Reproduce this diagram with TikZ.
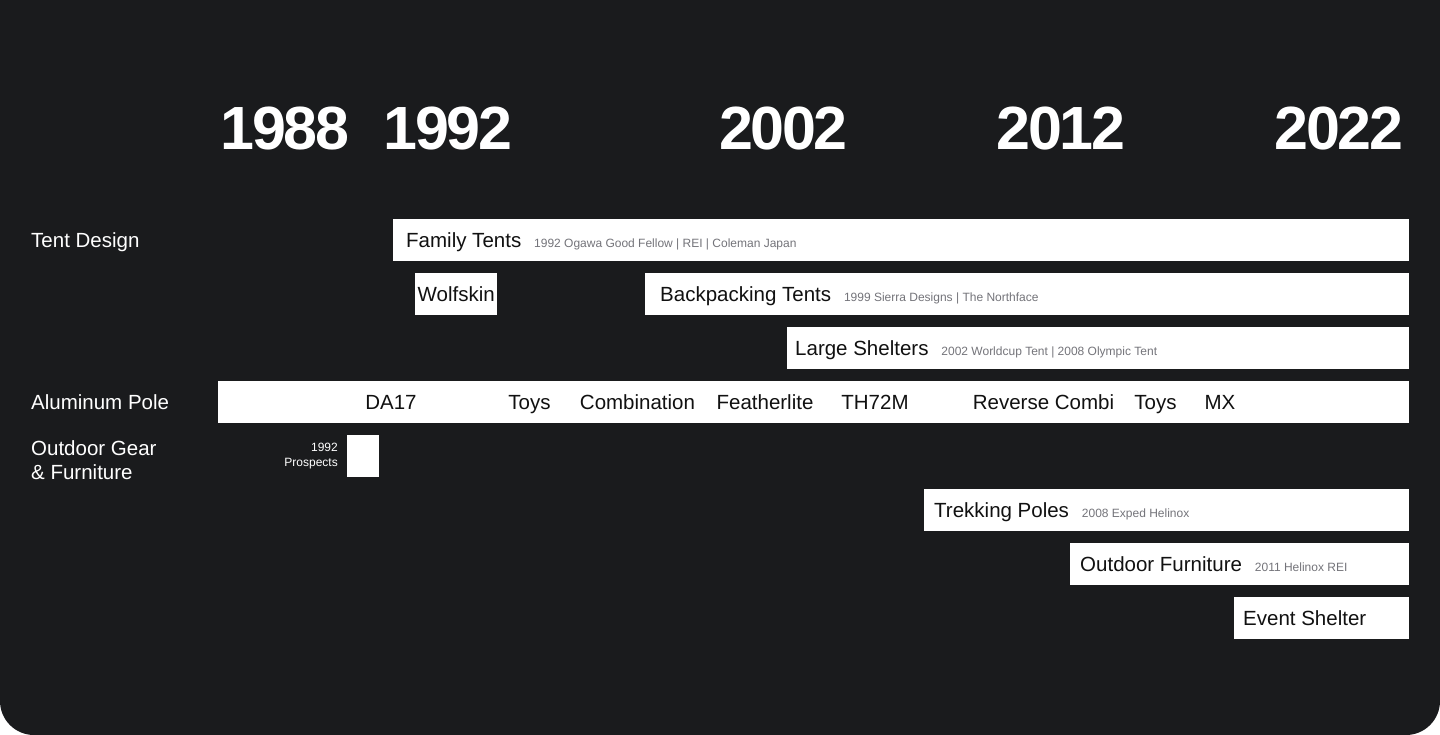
\documentclass[tikz,border=0pt]{standalone}
\usepackage{fontspec}
\setmainfont{Liberation Sans}
\newfontfamily\yearfont[LetterSpace=-4]{Liberation Sans}
\usetikzlibrary{positioning}
\definecolor{bgdark}{HTML}{1A1B1D}
\definecolor{subgray}{HTML}{74747A}
\definecolor{inkblack}{HTML}{111111}
\tikzset{
  bar/.style={fill=white, draw=none, inner sep=0pt, minimum height=42pt, anchor=north west},
  head/.style={font=\fontsize{20.5}{24}\selectfont, inner sep=0pt, text height=14.6pt, text depth=0pt, text=inkblack},
  lane/.style={head, text=white, anchor=west},
  sub/.style={font=\fontsize{12}{14.5}\selectfont, inner sep=0pt, text=subgray},
  year/.style={font=\yearfont\bfseries\fontsize{61}{61}\selectfont, text=white, inner sep=0pt, anchor=base},
}
\begin{document}
\begin{tikzpicture}[x=1pt,y=-1pt,node distance=12.5pt]
			\useasboundingbox (0,0) rectangle (1440,735);
			\fill[white] (0,0) rectangle (1440,735);
			\begin{scope}
				\clip (0,0) rectangle (1440,735);
				\fill[bgdark, rounded corners=34pt] (0,-60) rectangle (1440,735);
			\end{scope}

			%years
			\node[year] (y88) at (285,150) {1988};
			\node[year] (y92) at (448,150) {1992};
			\node[year] (y02) at (783.5,150) {2002};
			\node[year] (y12) at (1061,150) {2012};
			\node[year] (y22) at (1339,150) {2022};

			%lanes
			\node[lane] (tent) at (31,240) {Tent Design};
			\node[lane] (pole) at (31,402) {Aluminum Pole};
			\node[font=\fontsize{20.5}{24}\selectfont, text=white, inner sep=0pt, align=left, anchor=north west] (gear) at (31,440) {Outdoor Gear\\\& Furniture};

			%tent design bars
			\node[bar, minimum width=1016pt] (famt) at (393,219) {};
			\node[head, anchor=west] (famtl) at ([xshift=13pt]famt.west) {Family Tents};
			\node[sub, base right=of famtl] (famts) {1992 Ogawa Good Fellow | REI | Coleman Japan};

			\node[bar, minimum width=82pt] (wolf) at (415,273) {};
			\node[head] (wolfl) at (wolf.center) {Wolfskin};

			\node[bar, minimum width=764pt] (back) at (645,273) {};
			\node[head, anchor=west] (backl) at ([xshift=15pt]back.west) {Backpacking Tents};
			\node[sub, base right=of backl] (backs) {1999 Sierra Designs | The Northface};

			\node[bar, minimum width=622pt] (large) at (787,327) {};
			\node[head, anchor=west] (largel) at ([xshift=8pt]large.west) {Large Shelters};
			\node[sub, base right=of largel] (larges) {2002 Worldcup Tent | 2008 Olympic Tent};

			%aluminum pole bar
			\node[bar, minimum width=1191pt] (alu) at (218,381) {};
			\node[head] (da) at (391,402) {DA17};
			\node[head] (toya) at (529.5,402) {Toys};
			\node[head] (comb) at (637.5,402) {Combination};
			\node[head] (feat) at (765,402) {Featherlite};
			\node[head] (th) at (875,402) {TH72M};
			\node[head] (rev) at (1043.5,402) {Reverse Combi};
			\node[head] (toyb) at (1155.5,402) {Toys};
			\node[head] (mx) at (1220,402) {MX};

			%outdoor gear bars
			\node[bar, minimum width=32pt] (prosp) at (347,435) {};
			\node[sub, text=white, align=right, left=9pt of prosp] (prospl) {1992\\Prospects};

			\node[bar, minimum width=485pt] (trek) at (924,489) {};
			\node[head, anchor=west] (trekl) at ([xshift=10pt]trek.west) {Trekking Poles};
			\node[sub, base right=of trekl] (treks) {2008 Exped Helinox};

			\node[bar, minimum width=339pt] (furn) at (1070,543) {};
			\node[head, anchor=west] (furnl) at ([xshift=10pt]furn.west) {Outdoor Furniture};
			\node[sub, base right=of furnl] (furns) {2011 Helinox REI};

			\node[bar, minimum width=175pt] (event) at (1234,597) {};
			\node[head, anchor=west] (eventl) at ([xshift=9pt]event.west) {Event Shelter};
		\end{tikzpicture}
\end{document}
